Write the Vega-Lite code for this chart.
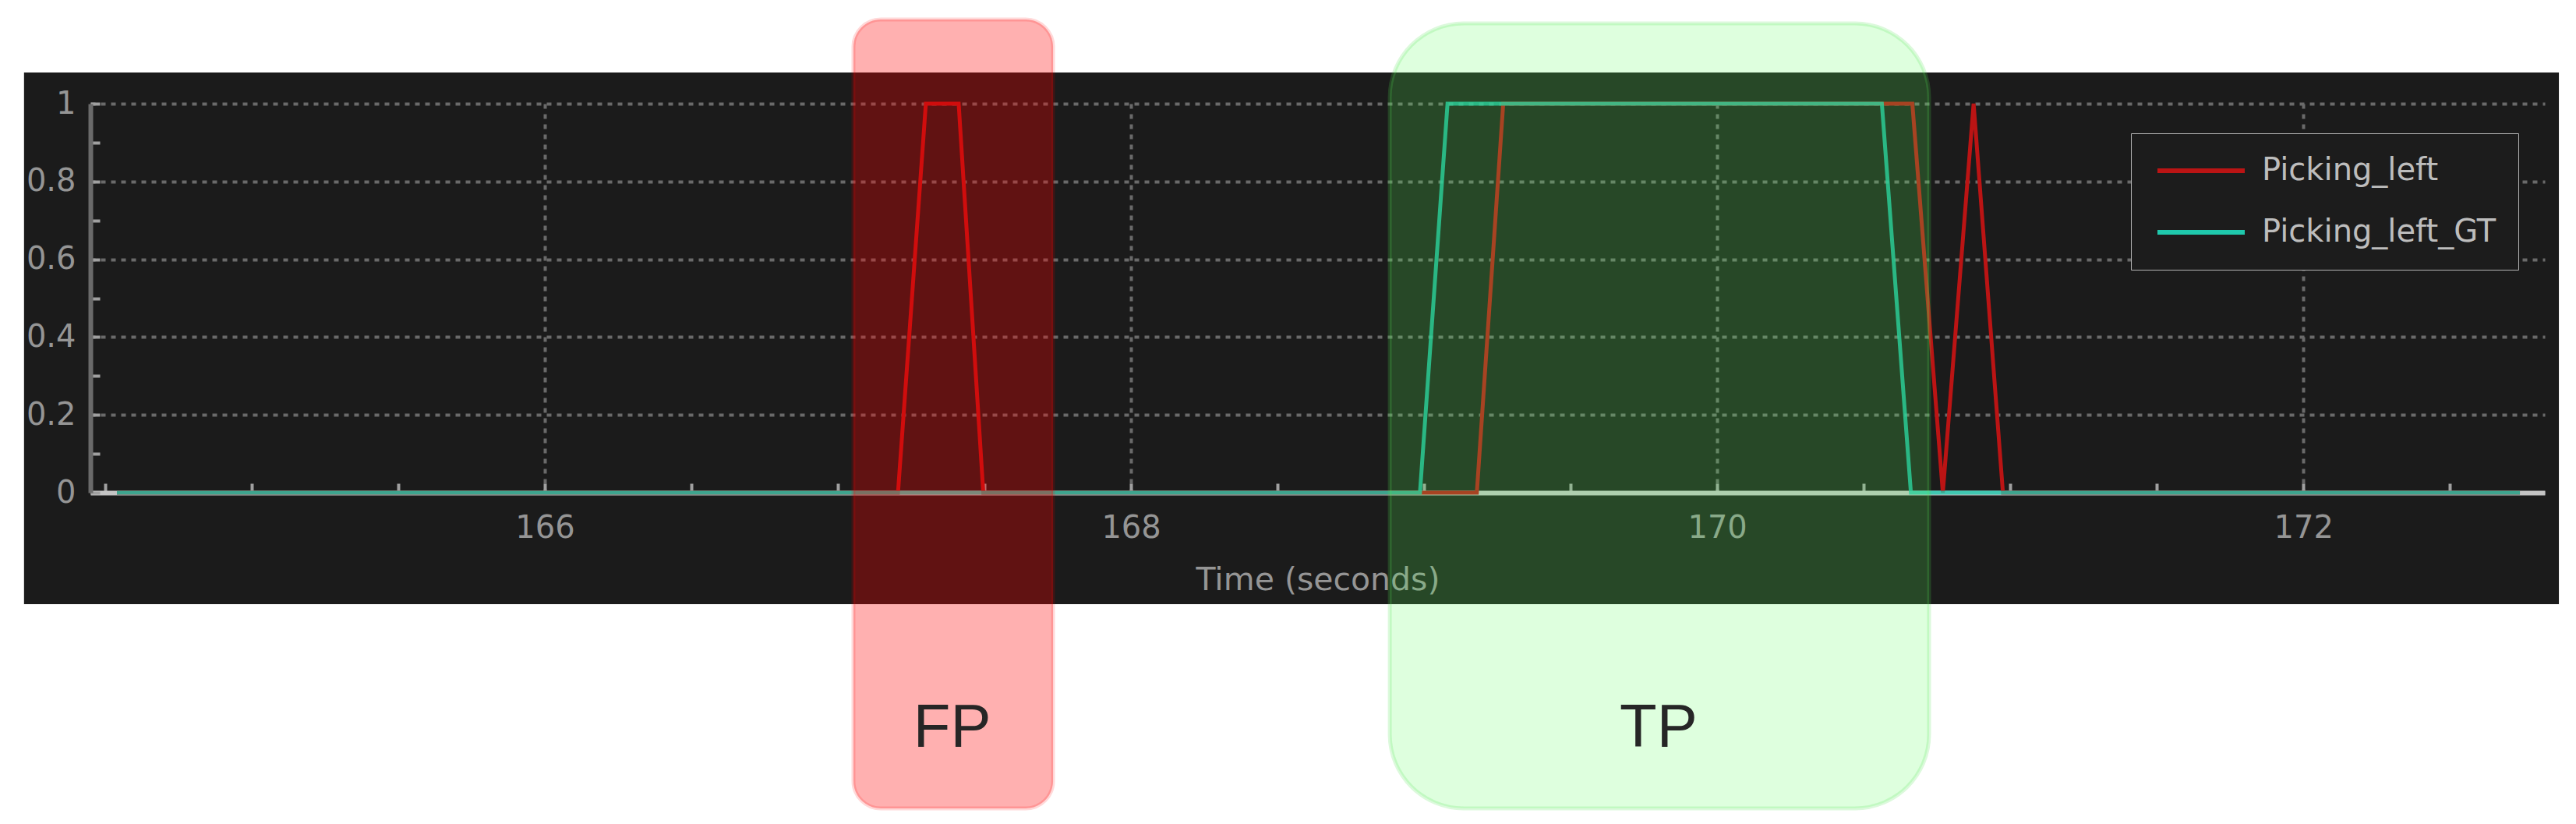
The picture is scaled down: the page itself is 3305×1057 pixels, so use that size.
{
  "$schema": "https://vega.github.io/schema/vega-lite/v6.json",
  "width": 3149,
  "height": 499,
  "autosize": {"type": "none"},
  "padding": {"left": 116, "top": 133, "right": 40, "bottom": 425},
  "background": "#1b1b1b",
  "config": {
    "view": {"stroke": null},
    "font": "DejaVu Sans"
  },
  "datasets": {
    "signals": [
      {"t": 164.54, "v": 0, "series": "Picking_left"},
      {"t": 167.205, "v": 0, "series": "Picking_left"},
      {"t": 167.3, "v": 1, "series": "Picking_left"},
      {"t": 167.412, "v": 1, "series": "Picking_left"},
      {"t": 167.496, "v": 0, "series": "Picking_left"},
      {"t": 169.18, "v": 0, "series": "Picking_left"},
      {"t": 169.27, "v": 1, "series": "Picking_left"},
      {"t": 170.666, "v": 1, "series": "Picking_left"},
      {"t": 170.77, "v": 0, "series": "Picking_left"},
      {"t": 170.875, "v": 1, "series": "Picking_left"},
      {"t": 170.975, "v": 0, "series": "Picking_left"},
      {"t": 172.739, "v": 0, "series": "Picking_left"},
      {"t": 164.54, "v": 0, "series": "Picking_left_GT"},
      {"t": 168.986, "v": 0, "series": "Picking_left_GT"},
      {"t": 169.08, "v": 1, "series": "Picking_left_GT"},
      {"t": 170.562, "v": 1, "series": "Picking_left_GT"},
      {"t": 170.661, "v": 0, "series": "Picking_left_GT"},
      {"t": 172.739, "v": 0, "series": "Picking_left_GT"}
    ],
    "events": [
      {"event": "FP", "start": 167.053, "end": 167.734, "mid": 167.39},
      {"event": "TP", "start": 168.883, "end": 170.723, "mid": 169.8}
    ],
    "one": [{}]
  },
  "layer": [
    {
      "data": {"name": "signals"},
      "mark": {"type": "line", "strokeWidth": 5},
      "encoding": {
        "x": {
          "field": "t", "type": "quantitative",
          "scale": {"domain": [164.4495, 172.824], "nice": false, "zero": false},
          "axis": {
            "title": "Time (seconds)",
            "values": [164.5, 165, 165.5, 166, 166.5, 167, 167.5, 168, 168.5, 169, 169.5, 170, 170.5, 171, 171.5, 172, 172.5],
            "labelExpr": "datum.value % 2 === 0 ? format(datum.value, 'd') : ''",
            "zindex": 0,
            "grid": true, "gridColor": "#6a6a6a", "gridDash": [6, 7], "gridWidth": 4,
            "gridOpacity": {"condition": {"test": "datum.value % 2 === 0", "value": 1}, "value": 0},
            "domainColor": "#c4c4c4", "domainWidth": 6,
            "ticks": true, "tickColor": "#a0a0a0", "tickSize": -12, "tickWidth": 4,
            "labelColor": "#959595", "labelFont": "DejaVu Sans", "labelFontSize": 40, "labelPadding": 37, "labelOverlap": false,
            "titleColor": "#959595", "titleFont": "DejaVu Sans", "titleFontSize": 41, "titleFontWeight": "normal", "titlePadding": 27
          }
        },
        "y": {
          "field": "v", "type": "quantitative",
          "scale": {"domain": [0, 1], "nice": false, "zero": false},
          "axis": {
            "title": null,
            "values": [0, 0.05, 0.1, 0.15, 0.2, 0.25, 0.3, 0.35, 0.4, 0.45, 0.5, 0.55, 0.6, 0.65, 0.7, 0.75, 0.8, 0.85, 0.9, 0.95, 1],
            "labelExpr": "abs(datum.value * 5 - round(datum.value * 5)) < 0.001 ? format(datum.value, '~g') : ''",
            "zindex": 0,
            "grid": true, "gridColor": "#6a6a6a", "gridDash": [6, 7], "gridWidth": 4,
            "gridOpacity": {"condition": {"test": "abs(datum.value * 5 - round(datum.value * 5)) < 0.001", "value": 1}, "value": 0},
            "domainColor": "#6a6a6a", "domainWidth": 6,
            "ticks": true, "tickColor": "#a0a0a0", "tickSize": -12, "tickWidth": 4,
            "labelColor": "#959595", "labelFont": "DejaVu Sans", "labelFontSize": 40, "labelPadding": 31, "labelOverlap": false
          }
        },
        "color": {
          "field": "series", "type": "nominal",
          "scale": {"domain": ["Picking_left", "Picking_left_GT"], "range": ["#bb1414", "#1fc8ac"]},
          "legend": {
            "title": null, "orient": "none", "legendX": 2618, "legendY": 38,
            "direction": "vertical",
            "symbolType": "M-4,0H4", "symbolSize": 784, "symbolStrokeWidth": 6, "symbolOffset": 42,
            "labelFont": "DejaVu Sans", "labelFontSize": 40, "labelColor": "#bdbdbd",
            "labelOffset": 58, "rowPadding": 39, "padding": 28, "labelLimit": 0,
            "strokeColor": "#b4b4b4", "fillColor": "#1c1c1c"
          }
        },
        "strokeOpacity": {
          "field": "series", "type": "nominal",
          "scale": {"domain": ["Picking_left", "Picking_left_GT"], "range": [1, 0.8]},
          "legend": null
        }
      }
    },
    {
      "data": {"name": "one"},
      "mark": {"type": "rect", "fill": "#ffffff"},
      "encoding": {
        "x": {"datum": 150, "type": "quantitative", "scale": {"domain": [164.4495, 172.824], "nice": false, "zero": false}},
        "x2": {"datum": 190},
        "y": {"datum": 1.08, "type": "quantitative", "scale": {"domain": [0, 1], "nice": false, "zero": false}},
        "y2": {"datum": 10}
      }
    },
    {
      "data": {"name": "one"},
      "mark": {"type": "rect", "fill": "#ffffff"},
      "encoding": {
        "x": {"datum": 150, "type": "quantitative", "scale": {"domain": [164.4495, 172.824], "nice": false, "zero": false}},
        "x2": {"datum": 190},
        "y": {"datum": -0.2866, "type": "quantitative", "scale": {"domain": [0, 1], "nice": false, "zero": false}},
        "y2": {"datum": -10}
      }
    },
    {
      "data": {"name": "one"},
      "mark": {"type": "rect", "fill": "#ffffff"},
      "encoding": {
        "x": {"datum": 150, "type": "quantitative", "scale": {"domain": [164.4495, 172.824], "nice": false, "zero": false}},
        "x2": {"datum": 164.223},
        "y": {"datum": -10, "type": "quantitative", "scale": {"domain": [0, 1], "nice": false, "zero": false}},
        "y2": {"datum": 10}
      }
    },
    {
      "data": {"name": "one"},
      "mark": {"type": "rect", "fill": "#ffffff"},
      "encoding": {
        "x": {"datum": 172.872, "type": "quantitative", "scale": {"domain": [164.4495, 172.824], "nice": false, "zero": false}},
        "x2": {"datum": 190},
        "y": {"datum": -10, "type": "quantitative", "scale": {"domain": [0, 1], "nice": false, "zero": false}},
        "y2": {"datum": 10}
      }
    },
    {
      "data": {"name": "events"},
      "transform": [{"filter": "datum.event === 'FP'"}],
      "mark": {"type": "rect", "cornerRadius": 35, "fill": "#ff0000", "fillOpacity": 0.31, "stroke": "#ff0000", "strokeOpacity": 0.15, "strokeWidth": 5},
      "encoding": {
        "x": {"field": "start", "type": "quantitative", "scale": {"domain": [164.4495, 172.824], "nice": false, "zero": false}},
        "x2": {"field": "end"},
        "y": {"datum": 1.2164, "type": "quantitative", "scale": {"domain": [0, 1], "nice": false, "zero": false}},
        "y2": {"datum": -0.8116}
      }
    },
    {
      "data": {"name": "events"},
      "transform": [{"filter": "datum.event === 'TP'"}],
      "mark": {"type": "rect", "cornerRadius": 95, "fill": "#5aff5a", "fillOpacity": 0.2, "stroke": "#4ee04e", "strokeOpacity": 0.2, "strokeWidth": 5},
      "encoding": {
        "x": {"field": "start", "type": "quantitative", "scale": {"domain": [164.4495, 172.824], "nice": false, "zero": false}},
        "x2": {"field": "end"},
        "y": {"datum": 1.2064, "type": "quantitative", "scale": {"domain": [0, 1], "nice": false, "zero": false}},
        "y2": {"datum": -0.8116}
      }
    },
    {
      "data": {"name": "events"},
      "mark": {"type": "text", "font": "Liberation Sans", "fontSize": 78, "color": "#262626", "align": "center", "baseline": "middle"},
      "encoding": {
        "x": {"field": "mid", "type": "quantitative", "scale": {"domain": [164.4495, 172.824], "nice": false, "zero": false}},
        "y": {"datum": -0.607, "type": "quantitative", "scale": {"domain": [0, 1], "nice": false, "zero": false}},
        "text": {"field": "event"}
      }
    }
  ]
}
